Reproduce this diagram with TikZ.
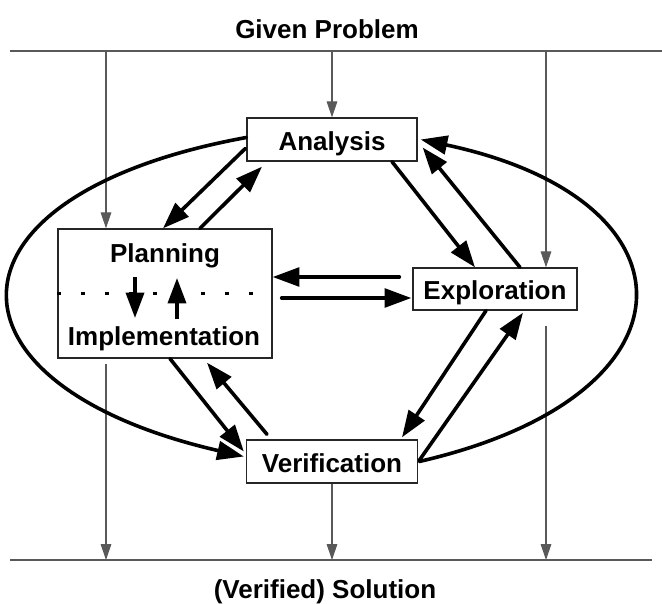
\documentclass[tikz,border=0pt]{standalone}
\usepackage{fontspec}
\setmainfont{Liberation Sans}
\usetikzlibrary{arrows.meta,calc}

\begin{document}
\begin{tikzpicture}[x=0.75pt,y=0.75pt,yscale=-1,xscale=1,
  font=\fontsize{19.5}{23}\selectfont\bfseries,
  box/.style={draw=black!85,line width=1pt,fill=white,inner sep=0pt,text height=15.75pt,text depth=0pt},
  thinline/.style={draw=black!65,line width=0.8pt},
  feed/.style={thinline,-{Triangle[length=12pt,width=8pt]}},
  flow/.style={line width=2.7pt,line cap=round,-{Triangle[length=20pt,width=14pt]}},
  pimarrow/.style={line width=2.7pt,-{Triangle[length=19pt,width=13.5pt]}},
  dotrow/.style={line width=2.6pt,dash pattern=on 2.6pt off 15.4pt}]
\useasboundingbox (0,0) rectangle (662,604);

% Text Node
\node[anchor=base] (given) at (327,38) {Given Problem};
% Text Node
\node[anchor=base] (solution) at (325,598) {(Verified) Solution};

%Straight Lines: problem and solution bars
\coordinate (tl) at (10,51);
\coordinate (tr) at (662,51);
\coordinate (bl) at (10,560);
\coordinate (br) at (652,560);
\coordinate (lx) at (106,51);
\coordinate (rx) at (546,51);
\draw[thinline] (tl) -- (tr);
\draw[thinline] (bl) -- (br);

%Shape: Boxes
\node[box,minimum width=127.5pt,minimum height=32.25pt] (ana) at (332,139.5) {Analysis};
\node[box,minimum width=160.5pt,minimum height=96.75pt] (plan) at (165,293.5) {};
\node[box,minimum width=123pt,minimum height=31.5pt] (expl) at (495,289) {Exploration};
\node[box,minimum width=128.25pt,minimum height=32.25pt] (veri) at (332,461.5) {Verification};

% Text Node
\node[anchor=base] (plantxt) at (165,262) {Planning};
% Text Node
\node[anchor=base] (impltxt) at (164,345) {Implementation};

%Dotted divider and inner arrows
\draw[dotrow] (plan.west) -- (plan.east);
\draw[pimarrow] ($(plan.center)+(-30,-16.5)$) -- ($(plan.center)+(-30,24.5)$);
\draw[pimarrow] ($(plan.center)+(12,25.5)$) -- ($(plan.center)+(12,-15.5)$);

%Thin feeds from problem to solution
\draw[feed] (lx) -- (lx |- plan.north);
\draw[feed] (ana.north |- tl) -- (ana.north);
\draw[feed] (rx) -- (rx |- expl.north);
\draw[feed] ($(lx |- plan.south)+(0,5)$) -- (lx |- bl);
\draw[feed] (veri.south) -- (veri.south |- bl);
\draw[feed] ($(rx |- expl.south)+(0,15)$) -- (rx |- bl);

%Straight Lines: thick flows
\draw[flow] ($(ana.west)+(-1,9)$) -- ($(plan.north)+(-2,0)$);
\draw[flow] ($(plan.north)+(35,0)$) -- ($(ana.south)+(-70,5)$);
\draw[flow] ($(ana.south)+(60,0)$) -- ($(expl.north)+(-20,0)$);
\draw[flow] ($(expl.north)+(25,0)$) -- ($(ana.east)+(5,8)$);
\draw[flow] ($(expl.west)+(-13,-12)$) -- ($(plan.east)+(0,-16.5)$);
\draw[flow] ($(plan.east)+(9,4.5)$) -- ($(expl.west)+(-1,9)$);
\draw[flow] ($(expl.south)+(-9,0)$) -- ($(veri.north)+(70,-2)$);
\draw[flow] ($(veri.east)+(1,-1)$) -- ($(expl.south)+(28,2)$);
\draw[flow] ($(plan.south)+(5,0)$) -- ($(veri.west)+(-2,-10)$);
\draw[flow] ($(veri.north)+(-65,-5)$) -- ($(plan.south)+(42,4)$);

%Shape: outer loop
\draw[flow] ($(ana.west)+(0,-2)$) .. controls +(-315,57.5) and +(-313,-72) .. ($(veri.west)+(-2,-5)$);
\draw[flow] ($(veri.east)+(1,0)$) .. controls +(286,-65.5) and +(283,60) .. ($(ana.east)+(3,0)$);

\end{tikzpicture}
\end{document}
